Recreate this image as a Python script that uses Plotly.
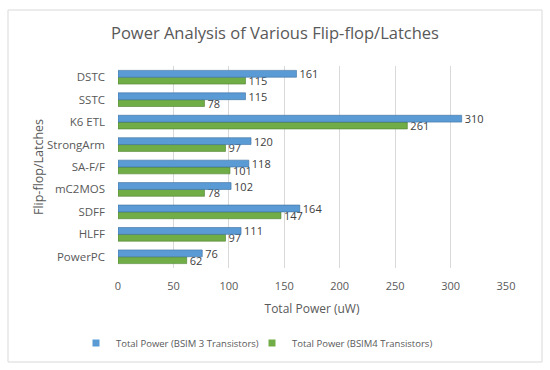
import plotly.graph_objects as go

categories = ["PowerPC", "HLFF", "SDFF", "mC2MOS", "SA-F/F", "StrongArm", "K6 ETL", "SSTC", "DSTC"]
bsim3 = [76, 111, 164, 102, 118, 120, 310, 115, 161]
bsim4 = [62, 97, 147, 78, 101, 97, 261, 78, 115]
x_ticks = [0, 50, 100, 150, 200, 250, 300, 350]
name3 = "Total Power (BSIM 3 Transistors)"
name4 = "Total Power (BSIM4 Transistors)"

W, H = 550, 370
ml, mr, mt, mb = 118, 44, 66, 102
font = "Open Sans"
gray = "#595959"
blue, green = "#5B9BD5", "#70AD47"

fig = go.Figure()
fig.add_trace(go.Bar(
    y=categories, x=bsim4, orientation="h", name=name4, showlegend=False,
    marker=dict(color=green, line=dict(color="#4E7F31", width=0.6)),
    text=bsim4, textposition="outside", constraintext="none", cliponaxis=False,
    textfont=dict(family=font, size=11, color="#404040"),
))
fig.add_trace(go.Bar(
    y=categories, x=bsim3, orientation="h", name=name3, showlegend=False,
    marker=dict(color=blue, line=dict(color="#3A6FA0", width=0.6)),
    text=bsim3, textposition="outside", constraintext="none", cliponaxis=False,
    textfont=dict(family=font, size=11, color="#404040"),
))
# legend-only entries with small square swatches
for nm, col, rk, lw in [(name3, blue, 1, 131), (name4, green, 2, 185)]:
    fig.add_trace(go.Scatter(x=[None], y=[None], mode="markers", name=nm, legendrank=rk,
                             legendwidth=lw,
                             marker=dict(symbol="square", size=7, color=col), hoverinfo="skip"))

pw = W - ml - mr
ph = H - mt - mb
fx0 = (8 - ml) / pw
fx1 = (542 - ml) / pw
fy0 = (ph + mt - 362) / ph
fy1 = (ph + mt - 10) / ph

fig.update_layout(
    width=W, height=H,
    margin=dict(l=ml, r=mr, t=mt, b=mb, autoexpand=False),
    paper_bgcolor="white", plot_bgcolor="white",
    barmode="group", bargap=0.39, bargroupgap=0.0,
    font=dict(family=font, color=gray, size=11),
    title=dict(text="Power Analysis of Various Flip-flop/Latches", x=0.5, xanchor="center",
               xref="container", y=1 - 33 / H, yref="container", yanchor="middle",
               font=dict(family=font, size=16.5, color=gray)),
    legend=dict(orientation="h", x=(76 - ml) / pw, xanchor="left", xref="paper",
                y=(ph + mt - 343) / ph, yref="paper", yanchor="middle",
                font=dict(family=font, size=9.5, color=gray),
                itemwidth=30, traceorder="normal", entrywidthmode="pixels"),
    showlegend=True,
    shapes=[dict(type="rect", xref="paper", yref="paper", x0=fx0, x1=fx1, y0=fy0, y1=fy1,
                 line=dict(color="#D9D9D9", width=1), layer="below")],
)
fig.update_xaxes(range=[0, 350], tickvals=x_ticks, showgrid=True, gridcolor="#D9D9D9",
                 zeroline=False, showline=False, ticks="", ticklabelstandoff=10,
                 automargin=False, tickfont=dict(size=11, color=gray),
                 title=dict(text="Total Power (uW)", font=dict(size=12, color=gray), standoff=12))
fig.update_yaxes(categoryorder="array", categoryarray=categories, showgrid=False,
                 zeroline=False, showline=False, ticks="", ticklabelstandoff=12,
                 automargin=False, tickfont=dict(size=11.5, color=gray),
                 title=dict(text="Flip-flop/Latches", font=dict(size=12.5, color=gray), standoff=0))

fig.write_html("out.html", config={"displayModeBar": False},
               post_script="document.body.style.margin='0px';")
